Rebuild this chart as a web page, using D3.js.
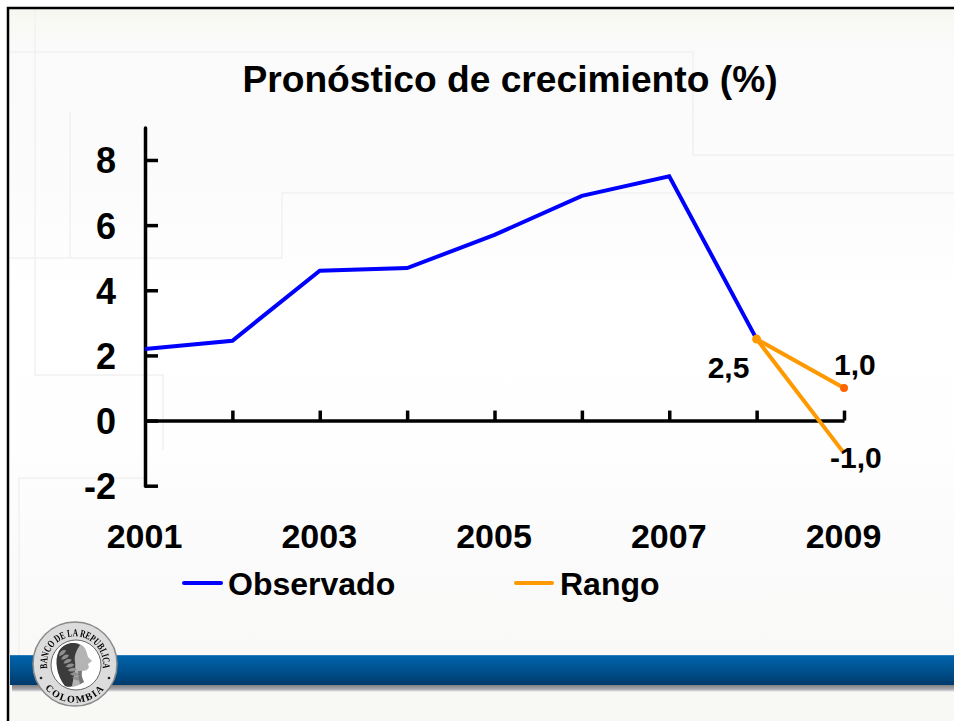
<!DOCTYPE html>
<html>
<head>
<meta charset="utf-8">
<script src="https://cdn.jsdelivr.net/npm/d3@7"></script>
<style>
html, body { margin: 0; padding: 0; background: #fff; }
svg { display: block; }
text { font-family: "Liberation Sans", Arial, sans-serif; font-weight: bold; fill: #000; }
</style>
</head>
<body>
<div id="chart"></div>
<script>
const width = 954;
const height = 721;

// Data
const years = [2001, 2002, 2003, 2004, 2005, 2006, 2007, 2008, 2009];
const labelYears = [2001, 2003, 2005, 2007, 2009];
const observado = [2.2, 2.45, 4.6, 4.68, 5.7, 6.9, 7.5, 2.5];
const rangoYears = [2008, 2009];
const rangoAlto = [2.5, 1.0];
const rangoBajo = [2.5, -1.0];
const yTicks = [-2, 0, 2, 4, 6, 8];
const title = "Pronóstico de crecimiento (%)";

const svg = d3.select("#chart").append("svg")
    .attr("width", width)
    .attr("height", height);

const defs = svg.append("defs");

// Slide background
const bgGrad = defs.append("linearGradient")
    .attr("id", "bg").attr("x1", 0).attr("y1", 0).attr("x2", 0).attr("y2", 1);
bgGrad.append("stop").attr("offset", "0").attr("stop-color", "#f7f7f1");
bgGrad.append("stop").attr("offset", "0.05").attr("stop-color", "#fafafa");
bgGrad.append("stop").attr("offset", "0.28").attr("stop-color", "#fcfcfc");
bgGrad.append("stop").attr("offset", "0.4").attr("stop-color", "#ffffff");
bgGrad.append("stop").attr("offset", "0.62").attr("stop-color", "#fefefe");
bgGrad.append("stop").attr("offset", "0.8").attr("stop-color", "#fafafa");
bgGrad.append("stop").attr("offset", "1").attr("stop-color", "#f8f8f5");

svg.append("rect")
    .attr("x", 8).attr("y", 8)
    .attr("width", width - 8).attr("height", height - 8)
    .attr("fill", "url(#bg)");

// Faint stepped lines in the template
const faint = [
    [[9, 52], [693, 52], [693, 155], [954, 155]],
    [[35, 9], [35, 375], [163, 375], [163, 450]],
    [[70, 112], [70, 258]],
    [[9, 258], [282, 258], [282, 193], [954, 193]],
    [[145, 478], [19, 478], [19, 655]]
];
svg.append("g").selectAll("path")
    .data(faint)
    .enter()
    .append("path")
    .attr("d", d3.line())
    .attr("fill", "none")
    .attr("stroke", "#f1f1f1")
    .attr("stroke-width", 1.5);

// Frame
svg.append("path")
    .attr("d", "M8,721V8H954")
    .attr("fill", "none")
    .attr("stroke", "#000")
    .attr("stroke-width", 2.5);

// Blue band at the bottom
const bandGrad = defs.append("linearGradient")
    .attr("id", "band").attr("x1", 0).attr("y1", 0).attr("x2", 0).attr("y2", 1);
bandGrad.append("stop").attr("offset", "0").attr("stop-color", "#4a8fc0");
bandGrad.append("stop").attr("offset", "0.04").attr("stop-color", "#0062aa");
bandGrad.append("stop").attr("offset", "0.5").attr("stop-color", "#00528f");
bandGrad.append("stop").attr("offset", "1").attr("stop-color", "#003a6c");

const shadowGrad = defs.append("linearGradient")
    .attr("id", "bandShadow").attr("x1", 0).attr("y1", 0).attr("x2", 0).attr("y2", 1);
shadowGrad.append("stop").attr("offset", "0").attr("stop-color", "#808080");
shadowGrad.append("stop").attr("offset", "0.6").attr("stop-color", "#a8a8b0");
shadowGrad.append("stop").attr("offset", "1").attr("stop-color", "#f8f8f5");

svg.append("rect")
    .attr("x", 12).attr("y", 685)
    .attr("width", width - 12).attr("height", 7)
    .attr("fill", "url(#bandShadow)");
svg.append("rect")
    .attr("x", 10).attr("y", 655)
    .attr("width", width - 10).attr("height", 30)
    .attr("fill", "url(#band)");

// Scales and axes
const x = d3.scaleLinear().domain([2001, 2009]).range([145, 844]);
const y = d3.scaleLinear().domain([-2, 9]).range([485.7, 127.4]);

const yAxis = svg.append("g")
    .attr("transform", `translate(${x(2001)},0)`)
    .call(d3.axisLeft(y)
        .tickValues(yTicks)
        .tickSizeInner(-13)
        .tickSizeOuter(0)
        .tickPadding(29)
        .tickFormat(d => String(d)));
yAxis.selectAll("text")
    .attr("font-size", 36)
    .style("font-family", "Liberation Sans")
    .attr("dy", "0.36em");
yAxis.selectAll("line, path").attr("stroke", "#000").attr("stroke-width", 3.5);
yAxis.select(".domain").attr("stroke-linecap", "round");

const xAxis = svg.append("g")
    .attr("transform", `translate(0,${y(0)})`)
    .call(d3.axisTop(x)
        .tickValues(years.slice(1))
        .tickSizeInner(10)
        .tickSizeOuter(0)
        .tickFormat(""));
xAxis.selectAll("line, path").attr("stroke", "#000").attr("stroke-width", 3.5);

const xLabels = svg.append("g")
    .attr("transform", "translate(-1,548)")
    .call(d3.axisTop(x)
        .tickValues(labelYears)
        .tickSize(0)
        .tickPadding(0)
        .tickFormat(d3.format("d")));
xLabels.select(".domain").remove();
xLabels.selectAll("text")
    .attr("font-size", 34)
    .style("font-family", "Liberation Sans");

// Title
svg.append("text")
    .attr("x", 510).attr("y", 92)
    .attr("text-anchor", "middle")
    .attr("font-size", 37.2)
    .text(title);

// Series
const line = d3.line()
    .x(d => x(d[0]))
    .y(d => y(d[1]));

svg.append("path")
    .attr("d", line(observado.map((v, i) => [years[i], v])))
    .attr("fill", "none")
    .attr("stroke", "#0000ff")
    .attr("stroke-width", 4);

[rangoAlto, rangoBajo].forEach(serie => {
    svg.append("path")
        .attr("d", line(serie.map((v, i) => [rangoYears[i], v])))
        .attr("fill", "none")
        .attr("stroke", "#ff9900")
        .attr("stroke-width", 4);
});

svg.append("circle")
    .attr("cx", x(2008)).attr("cy", y(2.5)).attr("r", 4.5)
    .attr("fill", "#ff9900");
svg.append("circle")
    .attr("cx", x(2009)).attr("cy", y(1)).attr("r", 4)
    .attr("fill", "#ff6600");

// Value labels
const valueLabels = [
    { text: "2,5", year: 2008, value: 2.5, dx: -49, dy: 39 },
    { text: "1,0", year: 2009, value: 1.0, dx: -10, dy: -13 },
    { text: "-1,0", year: 2009, value: -1.0, dx: -14, dy: 15 }
];
svg.append("g").selectAll("text")
    .data(valueLabels)
    .enter()
    .append("text")
    .attr("x", d => x(d.year) + d.dx)
    .attr("y", d => y(d.value) + d.dy)
    .attr("font-size", 30)
    .text(d => d.text);

// Legend
const legendItems = [
    { name: "Observado", color: "#0000ff", x0: 184, x1: 221, tx: 228 },
    { name: "Rango", color: "#ff9900", x0: 516, x1: 552, tx: 560 }
];
const legend = svg.append("g").selectAll("g")
    .data(legendItems)
    .enter()
    .append("g");
legend.append("line")
    .attr("x1", d => d.x0).attr("x2", d => d.x1)
    .attr("y1", 583).attr("y2", 583)
    .attr("stroke", d => d.color)
    .attr("stroke-width", 4)
    .attr("stroke-linecap", "round");
legend.append("text")
    .attr("x", d => d.tx)
    .attr("y", 595)
    .attr("font-size", 32)
    .text(d => d.name);

// Seal of the bank
defs.append("filter").attr("id", "soft")
    .append("feGaussianBlur").attr("stdDeviation", 0.45);
const seal = svg.append("g")
    .attr("transform", "translate(75,664)")
    .attr("filter", "url(#soft)");
seal.append("circle").attr("r", 42).attr("fill", "#dcdcdc").attr("stroke", "#8a8a8a").attr("stroke-width", 1.5);
seal.append("circle").attr("cx", 1).attr("cy", 1).attr("r", 25).attr("fill", "#fff").attr("stroke", "#666").attr("stroke-width", 1);
defs.append("path").attr("id", "sealTop").attr("d", "M-27.6,5A28,28 0 1 1 27.6,5");
defs.append("path").attr("id", "sealBottom").attr("d", "M-30,24A38,38 0 0 0 30,24");
seal.append("text")
    .attr("font-size", 10.5)
    .attr("fill", "#222")
    .style("font-family", "Liberation Serif")
    .append("textPath")
    .attr("href", "#sealTop")
    .attr("startOffset", "50%")
    .attr("text-anchor", "middle")
    .attr("textLength", 96)
    .attr("lengthAdjust", "spacingAndGlyphs")
    .text("BANCO DE LA REPUBLICA");
seal.append("text")
    .attr("font-size", 10)
    .style("font-family", "Liberation Serif")
    .attr("letter-spacing", 1.5)
    .append("textPath")
    .attr("href", "#sealBottom")
    .attr("startOffset", "50%")
    .attr("text-anchor", "middle")
    .text("COLOMBIA");
seal.selectAll("circle.dot")
    .data([-1, 1])
    .enter()
    .append("circle")
    .attr("class", "dot")
    .attr("cx", d => d * 34)
    .attr("cy", 14)
    .attr("r", 1.3)
    .attr("fill", "#222");
// Head in profile
seal.append("path")
    .attr("d", "M-10,22C-18,12 -21,-4 -16,-13C-11,-21 3,-24 9,-17C12,-13 12,-10 13,-7L17,-3L13,0L14,3C13,6 10,7 7,7C6,11 7,14 9,18C2,23 -5,24 -10,22Z")
    .attr("fill", "#b4b4b4");
seal.append("path")
    .attr("d", "M-10,22C-18,12 -21,-4 -16,-13C-11,-21 -1,-23 5,-19C1,-13 -1,-8 0,-2C1,3 -1,12 -3,22C-5,23 -8,23 -10,22Z")
    .attr("fill", "#3a3a3a");
// Laurel leaves
const leaves = d3.range(7);
seal.selectAll("path.leaf")
    .data(leaves)
    .enter()
    .append("path")
    .attr("class", "leaf")
    .attr("d", "M0,0C3,-3 7,-3 9,0C7,2 3,2 0,0Z")
    .attr("fill", "#8f8f8f")
    .attr("transform", d => `translate(${-16 + d * 2.2},${-8 + d * 3.6}) rotate(${-40 + d * 9})`);
seal.append("path")
    .attr("d", "M3,7C3,12 4,16 5,20L9,18C7,14 6,11 7,7Z")
    .attr("fill", "#777");
</script>
</body>
</html>
